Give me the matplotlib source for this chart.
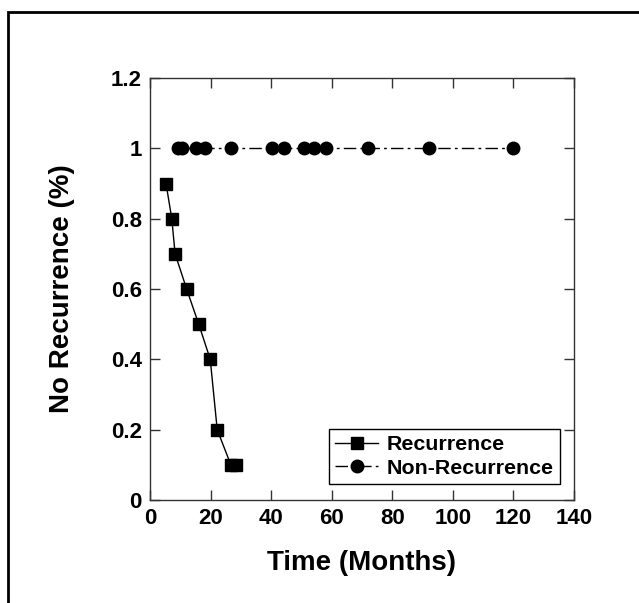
import matplotlib
matplotlib.use("Agg")
import matplotlib.pyplot as plt
from matplotlib.patches import Rectangle
from matplotlib.ticker import FuncFormatter

# data
rec_months = [5.3, 7.2, 8.3, 12.1, 16.1, 19.9, 22.2, 26.7, 28.3]
rec_values = [0.9, 0.8, 0.7, 0.6, 0.5, 0.4, 0.2, 0.1, 0.1]

nonrec_months = [9.1, 10.5, 15.2, 18.2, 26.7, 40.4, 44.2, 50.8, 54.1, 58.1, 72, 92, 120]
nonrec_values = [1, 1, 1, 1, 1, 1, 1, 1, 1, 1, 1, 1, 1]

x_ticks = [0, 20, 40, 60, 80, 100, 120, 140]
y_ticks = [0, 0.2, 0.4, 0.6, 0.8, 1.0, 1.2]

plt.rcParams['font.family'] = ['Liberation Sans', 'DejaVu Sans']
plt.rcParams['font.weight'] = 'bold'

fig = plt.figure(figsize=(6.39, 6.03), dpi=100)
ax = fig.add_axes([0.2347, 0.1708, 0.6636, 0.6998])

ax.plot(rec_months, rec_values, color='black', lw=1, marker='s', ms=8.8,
        label='Recurrence')
ax.plot(nonrec_months, nonrec_values, color='black', lw=1, marker='o', ms=9,
        dashes=(9, 3, 2, 3), label='Non-Recurrence')

ax.set_xlim(0, 140)
ax.set_ylim(0, 1.2)
ax.set_xticks(x_ticks)
ax.set_yticks(y_ticks)
ax.yaxis.set_major_formatter(FuncFormatter(lambda v, p: '%g' % round(v, 2)))
ax.tick_params(direction='in', length=7, width=1, top=True, right=True,
               labelsize=16, pad=6, color='#333333')
for lab in ax.get_xticklabels() + ax.get_yticklabels():
    lab.set_fontweight('bold')
for sp in ax.spines.values():
    sp.set_color('#333333')
    sp.set_linewidth(1)

ax.set_xlabel('Time (Months)', fontsize=20, fontweight='bold', labelpad=15)
ax.set_ylabel('No Recurrence (%)', fontsize=20, fontweight='bold', labelpad=26)

leg = ax.legend(loc='lower right', bbox_to_anchor=(0.967, 0.038), fancybox=False,
                framealpha=1, edgecolor='black', prop={'size': 15.4, 'weight': 'bold'},
                handlelength=2, borderpad=0.3, labelspacing=0.2, handletextpad=0.4,
                borderaxespad=0)
leg.get_frame().set_linewidth(1)

# outer frame around the figure
fig.patches.append(Rectangle((8 / 639, -0.1), 1.2, 1.1 - 12 / 603,
                             transform=fig.transFigure, fill=False,
                             edgecolor='black', lw=2))

fig.savefig('out.png', dpi=100)
